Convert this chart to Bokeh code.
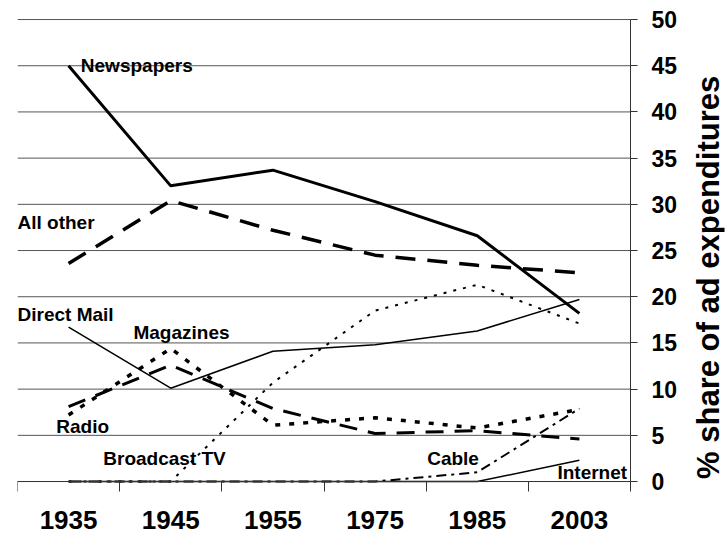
from bokeh.plotting import figure
from bokeh.models import (Range1d, LinearAxis, FixedTicker, ColumnDataSource, LabelSet, Label)
from bokeh.core.properties import value
from bokeh.embed import file_html
from bokeh.resources import INLINE

years = ["1935", "1945", "1955", "1975", "1985", "2003"]
newspapers = [45.0, 32.0, 33.7, 30.3, 26.6, 18.2]
all_other = [23.6, 30.4, 27.2, 24.5, 23.4, 22.6]
direct_mail = [16.7, 10.1, 14.1, 14.8, 16.3, 19.7]
magazines = [8.1, 12.6, 7.9, 5.2, 5.5, 4.6]
radio = [7.2, 14.4, 6.1, 6.9, 5.8, 7.8]
broadcast_tv = [0.0, 0.0, 10.7, 18.5, 21.3, 17.1]
cable = [0.0, 0.0, 0.0, 0.0, 1.0, 7.9]
internet = [0.0, 0.0, 0.0, 0.0, 0.0, 2.3]
y_ticks = [0, 5, 10, 15, 20, 25, 30, 35, 40, 45, 50]

label_names = ["Newspapers", "All other", "Direct Mail", "Magazines", "Radio",
               "Broadcast TV", "Cable", "Internet"]
label_x = [0.62, 0.0, 0.0, 1.135, 0.38, 0.84, 4.01, 5.285]
label_y = [45.0, 28.0, 18.1, 16.1, 6.0, 2.5, 2.5, 1.0]

FONT = "Liberation Sans"
n = len(years)

# category slots: each year occupies one unit-wide band, centred on i + 0.5
x_pos = [i + 0.5 for i in range(n)]
bounds = list(range(n + 1))

# the frame fills the canvas so the axes and rotated title are never clipped;
# the category area (0..n) ends where the right axis sits, 0..50 is the value area.
p = figure(width=725, height=538, x_range=Range1d(0, n * 707 / 613),
           y_range=Range1d(-5.84, 52.06),
           x_axis_location=None, y_axis_location=None, output_backend="svg",
           toolbar_location=None, min_border_left=17, min_border_right=1,
           min_border_top=0, min_border_bottom=3)
p.grid.visible = False
p.outline_line_color = None
p.background_fill_color = "white"
p.border_fill_color = "white"

# horizontal gridlines across the category area only
p.segment(x0=[0] * len(y_ticks), x1=[n] * len(y_ticks), y0=y_ticks, y1=y_ticks,
          line_color="#555555", line_width=1)

xaxis = LinearAxis(fixed_location=0, bounds=(0, n),
                   ticker=FixedTicker(ticks=x_pos, minor_ticks=bounds),
                   major_label_overrides={x: y for x, y in zip(x_pos, years)},
                   axis_line_color="#333333", major_tick_line_color=None,
                   major_tick_out=0, major_tick_in=0,
                   minor_tick_line_color="#333333", minor_tick_out=10, minor_tick_in=0,
                   major_label_text_font=FONT, major_label_text_font_style="bold",
                   major_label_text_font_size="26px", major_label_standoff=19,
                   major_label_text_color="black")
p.add_layout(xaxis, "below")

yaxis = LinearAxis(fixed_location=n, ticker=FixedTicker(ticks=y_ticks), bounds=(0, 50),
                   major_tick_out=7, major_tick_in=0,
                   axis_line_color="#333333", major_tick_line_color="#333333",
                   minor_tick_line_color=None, major_label_text_font=FONT,
                   major_label_text_font_style="bold", major_label_text_font_size="23px",
                   major_label_standoff=14, major_label_text_color="black")
p.add_layout(yaxis, "right")

p.line(x_pos, newspapers, line_width=3, line_color="black")
p.line(x_pos, all_other, line_width=3.5, line_color="black", line_dash="20 12")
p.line(x_pos, direct_mail, line_width=1.5, line_color="black")
p.line(x_pos, magazines, line_width=3, line_color="black", line_dash="18 11")
p.line(x_pos, radio, line_width=3.5, line_color="black", line_dash="5 9")
p.line(x_pos, broadcast_tv, line_width=2, line_color="black", line_dash="3 7")
p.line(x_pos, cable, line_width=2, line_color="black", line_dash="10 5 3 5")
p.line(x_pos, internet, line_width=1.5, line_color="black")

src = ColumnDataSource(dict(x=label_x, y=label_y, t=label_names))
p.add_layout(LabelSet(x="x", y="y", text="t", source=src,
                      text_font=value(FONT), text_font_style=value("bold"),
                      text_font_size=value("19px"), text_color="black",
                      text_align="left", text_baseline="middle"))

p.add_layout(Label(x=6.763, y=22.1, text="% share of ad expenditures",
                   angle=90, angle_units="deg", text_align="center", text_baseline="middle",
                   text_font=FONT, text_font_style="bold", text_font_size="31px",
                   text_color="black"))

open("out.html", "w").write(file_html(p, INLINE))
